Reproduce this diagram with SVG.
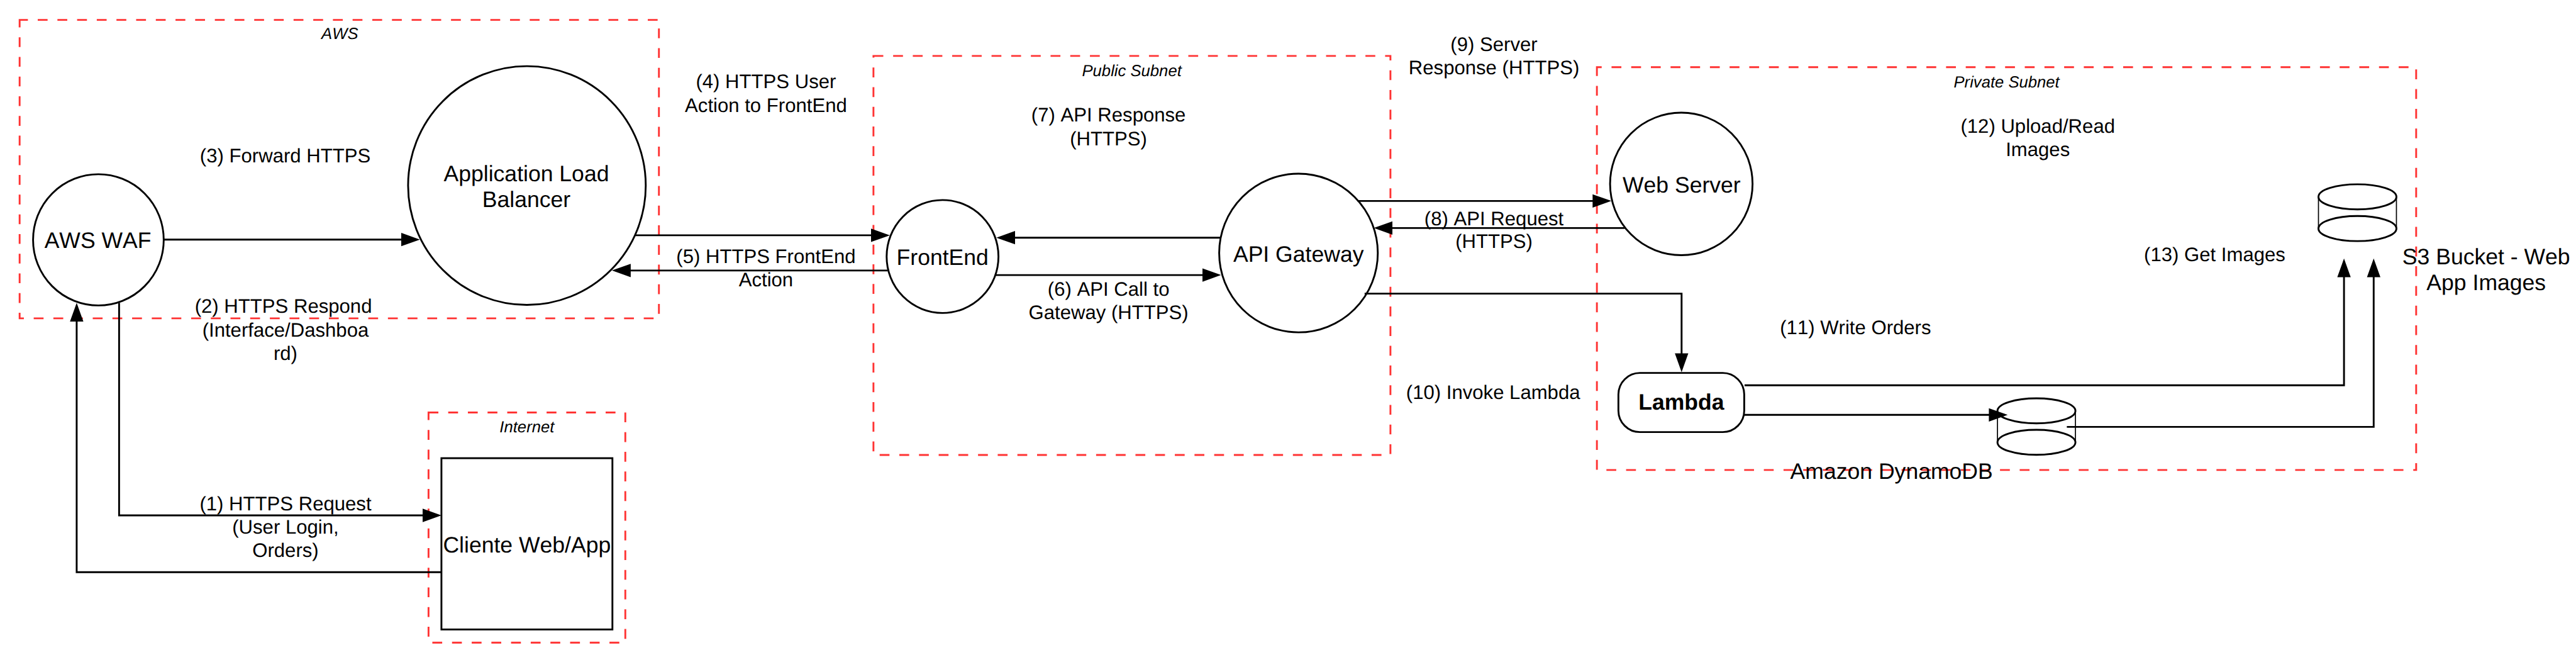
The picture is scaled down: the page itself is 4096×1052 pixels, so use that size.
<svg xmlns="http://www.w3.org/2000/svg" width="4096" height="1052" viewBox="0 0 4096 1052">
<style>
text{font-family:"Liberation Sans",Arial,sans-serif;fill:#000;text-anchor:middle;font-kerning:none;text-rendering:geometricPrecision}
.l{font-size:36.4px}
.n{font-size:41.6px}
.i{font-size:30px;font-style:italic}
.b{font-weight:bold}
.z{fill:none;stroke:#f33;stroke-width:3.4;stroke-dasharray:18.3 18.3}
.s{fill:#fff;stroke:#000;stroke-width:3.4}
.c{fill:none;stroke:#000;stroke-width:3.4;marker-end:url(#a)}
.p{fill:none;stroke:#000;stroke-width:3.4}
</style>
<defs>
<marker id="a" markerUnits="userSpaceOnUse" markerWidth="38" markerHeight="28" refX="29" refY="13" orient="auto"><path d="M0 .5L35 13L0 25.500z" fill="#000"/></marker>
</defs>
<rect width="4096" height="1052" fill="#fff"/>
<g transform="scale(.85494 .85459)">
<g id="zones">
<g id="zone-aws"><rect class="z" x="36.500" y="37" width="1189" height="555" stroke-dashoffset="-33.700"/><text class="i" x="632" y="73">AWS</text></g>
<g id="zone-internet"><rect class="z" x="797" y="767" width="366" height="428"/><text class="i" x="980" y="804">Internet</text></g>
<g id="zone-public"><rect class="z" x="1624.500" y="104" width="961.500" height="742"/><text class="i" x="2105" y="142">Public Subnet</text></g>
<g id="zone-private"><rect class="z" x="2970" y="125" width="1523.700" height="749" stroke-dashoffset="-27.200"/><text class="i" x="3732" y="163">Private Subnet</text></g>
</g>
<g id="waf"><ellipse class="s" cx="183" cy="446" rx="121.500" ry="122"/><text class="n" x="182" y="461">AWS WAF</text></g>
<g id="alb"><ellipse class="s" cx="980" cy="345" rx="221" ry="222"/><text class="n" x="979" y="337">Application Load</text><text class="n" x="979" y="385">Balancer</text></g>
<g id="client"><rect class="s" x="821" y="852" width="318" height="318.500"/><text class="n" x="980" y="1027">Cliente Web/App</text></g>
<g id="frontend"><ellipse class="s" cx="1753" cy="477" rx="104" ry="105"/><text class="n" x="1753" y="492.500">FrontEnd</text></g>
<g id="apigw"><ellipse class="s" cx="2415" cy="470.500" rx="147.500" ry="147.500"/><text class="n" x="2415" y="487">API Gateway</text></g>
<g id="webserver"><ellipse class="s" cx="3127" cy="342" rx="132.500" ry="132.500"/><text class="n" x="3127.500" y="358">Web Server</text></g>
<g id="lambda"><rect class="s" x="3010" y="693.500" width="234" height="110" rx="40" ry="40"/><text class="n b" x="3127" y="762">Lambda</text></g>
<g id="dynamodb"><path class="s" d="M3715 764V822.500A72.500 23.300 0 0 0 3860 822.500V764" style="stroke-width:2"/><ellipse class="s" cx="3787.500" cy="764" rx="72.500" ry="23.300"/><path class="p" d="M3715 822.500A72.500 23.300 0 0 1 3860 822.500A72.500 23.300 0 0 1 3715 822.500Z"/><text class="n" x="3518" y="891">Amazon DynamoDB</text></g>
<g id="s3"><path class="s" d="M4312 366V425A72.500 23.300 0 0 0 4457 425V366" style="stroke-width:2"/><ellipse class="s" cx="4384.500" cy="366" rx="72.500" ry="23.300"/><path class="p" d="M4312 425A72.500 23.300 0 0 1 4457 425A72.500 23.300 0 0 1 4312 425Z"/><text class="n" x="4624" y="491">S3 Bucket - Web</text><text class="n" x="4624" y="540">App Images</text></g>
<g id="connectors">
<path class="c" d="M221.500 563V958.300H815"/>
<path class="c" d="M821 1064H142.600V569"/>
<path class="c" d="M304 445.500H775"/>
<path class="c" d="M1181.500 437.500H1649"/>
<path class="c" d="M1651 503H1144"/>
<path class="c" d="M2270 442H1859"/>
<path class="c" d="M1851 511.500H2265"/>
<path class="c" d="M2525 373.700H2991"/>
<path class="c" d="M3022 424H2561"/>
<path class="c" d="M2538 546H3127.500V686"/>
<path class="c" d="M3244.600 716.400H4359.500V486.500"/>
<path class="c" d="M3244 771.500H3728"/>
<path class="c" d="M3844 793.800H4414.700V486.500"/>
</g>
<g id="labels">
<text class="l" x="531" y="948.500">(1) HTTPS Request</text><text class="l" x="531" y="992">(User Login,</text><text class="l" x="531" y="1035">Orders)</text>
<text class="l" x="527" y="582">(2) HTTPS Respond</text><text class="l" x="531" y="626">(Interface/Dashboa</text><text class="l" x="531" y="669">rd)</text>
<text class="l" x="530.500" y="302">(3) Forward HTTPS</text>
<text class="l" x="1424.600" y="164">(4) HTTPS User</text><text class="l" x="1424.600" y="208">Action to FrontEnd</text>
<text class="l" x="1424.600" y="489">(5) HTTPS FrontEnd</text><text class="l" x="1424.600" y="532">Action</text>
<text class="l" x="2061.700" y="550">(6) API Call to</text><text class="l" x="2061.700" y="593.500">Gateway (HTTPS)</text>
<text class="l" x="2061.700" y="226">(7) API Response</text><text class="l" x="2061.700" y="270">(HTTPS)</text>
<text class="l" x="2778.600" y="418.500">(8) API Request</text><text class="l" x="2778.600" y="461">(HTTPS)</text>
<text class="l" x="2778.600" y="94.700">(9) Server</text><text class="l" x="2778.600" y="138">Response (HTTPS)</text>
<text class="l" x="2777" y="741.700">(10) Invoke Lambda</text>
<text class="l" x="3451" y="621">(11) Write Orders</text>
<text class="l" x="3790" y="247.400">(12) Upload/Read</text><text class="l" x="3790" y="289.700">Images</text>
<text class="l" x="4119" y="486">(13) Get Images</text>
</g>
</g>
</svg>
